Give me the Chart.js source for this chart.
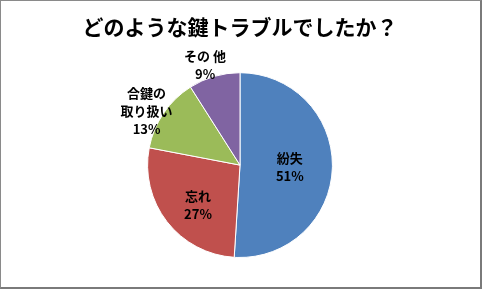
<!DOCTYPE html>
<html lang="ja">
<head>
    <meta charset="UTF-8">
    <title>どのような鍵トラブルでしたか？</title>
    <script src="https://cdn.jsdelivr.net/npm/chart.js"></script>
    <style>
        body {
            margin: 0;
            padding: 0;
            background-color: #ffffff;
        }
        .chart-box {
            position: relative;
            width: 482px;
            height: 289px;
        }
        .frame {
            position: absolute;
            left: 0;
            top: 0;
            width: 482px;
            height: 289px;
            box-sizing: border-box;
            border: 1px solid #8a8a8a;
            border-right: 2px solid #7a7a7a;
            border-bottom: 2px solid #7a7a7a;
            pointer-events: none;
        }
    </style>
</head>
<body>
    <div class="chart-box">
        <canvas id="myChart" width="482" height="289"></canvas>
        <div class="frame"></div>
    </div>

    <script>
        // data
        const categories = [['紛失'], ['忘れ'], ['合鍵の', '取り扱い'], ['その 他']];
        const shares = [51, 27, 13, 9];
        const sliceColors = ['#4f81bd', '#c0504d', '#9bbb59', '#8064a2'];

        // label placement: fraction of radius + small angle tweak (deg)
        const labelSpots = [
            { f: 0.54, da: 0 },
            { f: 0.63, da: -6 },
            { f: 1.17, da: -4 },
            { f: 1.15, da: -3 }
        ];

        const FONT = "'Noto Sans CJK JP', 'Noto Sans', sans-serif";

        const sliceLabels = {
            id: 'sliceLabels',
            afterDatasetsDraw(chart) {
                const c = chart.ctx;
                const meta = chart.getDatasetMeta(0);
                c.save();
                c.fillStyle = '#000';
                c.font = 'bold 13px ' + FONT;
                c.textAlign = 'center';
                c.textBaseline = 'middle';
                meta.data.forEach((arc, i) => {
                    const p = arc.getProps(['x', 'y', 'startAngle', 'endAngle', 'outerRadius'], true);
                    const mid = (p.startAngle + p.endAngle) / 2 + labelSpots[i].da * Math.PI / 180;
                    const r = p.outerRadius * labelSpots[i].f;
                    const cx = p.x + Math.cos(mid) * r;
                    const cy = p.y + Math.sin(mid) * r;
                    const lines = categories[i].concat([shares[i] + '%']);
                    const lh = 18;
                    const y0 = cy - (lines.length - 1) * lh / 2;
                    lines.forEach((t, k) => c.fillText(t, cx, y0 + k * lh));
                });
                c.restore();
            }
        };

        const ctx = document.getElementById('myChart').getContext('2d');
        const myChart = new Chart(ctx, {
            type: 'pie',
            data: {
                labels: categories.map(l => l.join('')),
                datasets: [{
                    data: shares,
                    backgroundColor: sliceColors,
                    borderColor: '#ffffff',
                    borderWidth: 1
                }]
            },
            options: {
                responsive: false,
                animation: false,
                layout: {
                    padding: { left: 0, right: 2, top: 0, bottom: 31 }
                },
                plugins: {
                    legend: { display: false },
                    tooltip: { enabled: false },
                    title: {
                        display: true,
                        text: 'どのような鍵トラブルでしたか？',
                        color: '#000',
                        font: { family: FONT, size: 21, weight: 'bold', lineHeight: 1.2 },
                        padding: { top: 14, bottom: 33 }
                    }
                }
            },
            plugins: [sliceLabels]
        });
    </script>
</body>
</html>
